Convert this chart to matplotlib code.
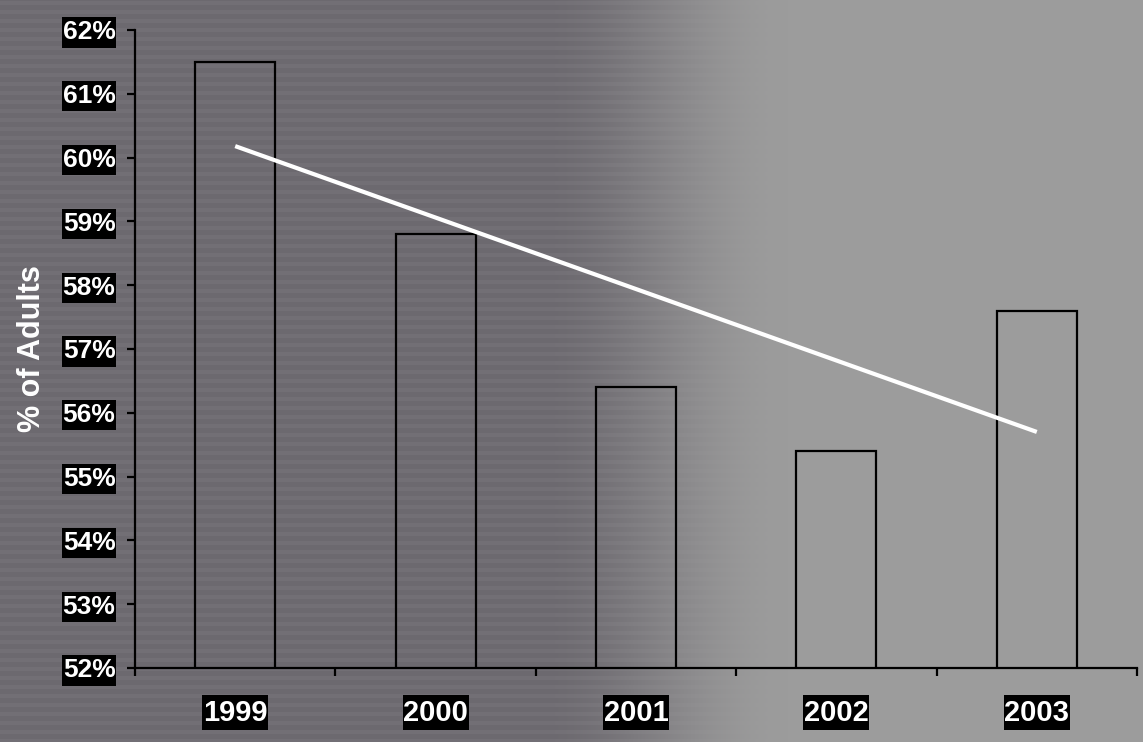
import numpy as np
import matplotlib
matplotlib.use("Agg")
import matplotlib.pyplot as plt
from matplotlib.path import Path

years = ["1999", "2000", "2001", "2002", "2003"]
values = [61.5, 58.8, 56.4, 55.4, 57.6]
yticks = [52, 53, 54, 55, 56, 57, 58, 59, 60, 61, 62]
ylabel = "% of Adults"

plt.rcParams['font.family'] = ['Liberation Sans', 'DejaVu Sans']

W, H = 1143, 742
fig = plt.figure(figsize=(W / 100, H / 100), dpi=100)

# background: dark purplish grey on the left fading to light grey on the right
xs = np.linspace(0, 1, W)
t = np.clip((xs - 0.47) / 0.22, 0, 1)
t = t * t * (3 - 2 * t)
left = np.array([108, 105, 111]) / 255.0
right = np.array([156, 156, 156]) / 255.0
row = left[None, :] * (1 - t[:, None]) + right[None, :] * t[:, None]
img = np.repeat(row[None, :, :], H, axis=0)
yy = np.arange(H)
stripes = 0.025 * (np.sin(yy * 2 * np.pi / 9.0) > 0.3)
img = img + (stripes[:, None] * (1 - t)[None, :])[:, :, None]
img = np.clip(img, 0, 1)
bg = fig.add_axes([0, 0, 1, 1], zorder=-10)
bg.imshow(img, aspect='auto', extent=[0, 1, 0, 1], interpolation='bilinear')
bg.axis('off')

ax = fig.add_axes([135 / W, 1 - 668 / H, (1137 - 135) / W, (668 - 30) / H])
ax.patch.set_alpha(0)

x = np.arange(len(years))
ax.bar(x, values, width=0.4, bottom=0, facecolor='none', edgecolor='black', linewidth=1.6)

# linear trend line
coef = np.polyfit(x, values, 1)
ax.plot(x, np.polyval(coef, x), color='white', linewidth=3.0, solid_capstyle='butt')

ax.set_xlim(-0.5, len(years) - 0.5)
ax.set_ylim(52, 62)

for s in ['top', 'right']:
    ax.spines[s].set_visible(False)
for s in ['left', 'bottom']:
    ax.spines[s].set_linewidth(1.6)
    ax.spines[s].set_color('black')

ax.set_yticks(yticks)
ax.set_yticklabels([f"{v}%" for v in yticks])
ax.tick_params(axis='y', direction='out', length=6, width=1.6, pad=8)

ax.set_xticks(np.arange(-0.5, len(years), 1.0))
ax.set_xticklabels([])
ax.set_xticks(x, minor=True)
ax.set_xticklabels(years, minor=True)
ax.tick_params(axis='x', which='major', direction='out', length=6, width=1.6)
ax.tick_params(axis='x', which='minor', length=0, pad=22)


def tallbox(x0, y0, width, height, mutation_size):
    px = 0.02 * mutation_size
    py = 0.12 * mutation_size
    xa, xb = x0 - px, x0 + width + px
    ya, yb = y0 - py, y0 + height + py
    return Path([(xa, ya), (xb, ya), (xb, yb), (xa, yb), (xa, ya)], closed=True)


box = dict(boxstyle=tallbox, facecolor='black', edgecolor='none')
for lab in ax.get_yticklabels():
    lab.set_color('white')
    lab.set_fontsize(19)
    lab.set_fontweight('bold')
    lab.set_bbox(box)
for lab in ax.get_xticklabels(minor=True):
    lab.set_color('white')
    lab.set_fontsize(21)
    lab.set_fontweight('bold')
    lab.set_bbox(box)

fig.text(32 / W, 1 - 349 / H, ylabel, rotation=90, color='white', fontsize=22,
         fontweight='bold', ha='center', va='center')

fig.savefig("out.png", dpi=100)
